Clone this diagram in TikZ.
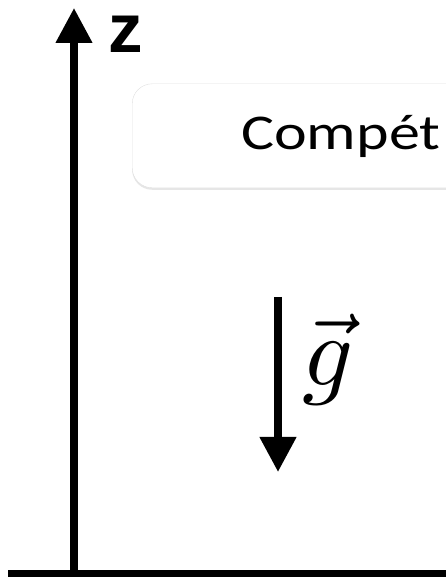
\documentclass[tikz,border=0pt]{standalone}
\usepackage{fontspec}
\setmainfont{Carlito}
\newfontfamily\axisfont{Liberation Sans}
\usetikzlibrary{arrows.meta, positioning, shadows}

\begin{document}
\begin{tikzpicture}[
    x=1pt, y=1pt,
    axis/.style={line width=7.5pt, -{Triangle[length=35pt,width=35pt]}},
    ground/.style={line width=7pt},
    panel/.style={rectangle, draw=black!12, fill=white, rounded corners=20pt, minimum width=420pt, minimum height=104pt, anchor=south west, drop shadow={opacity=0.2, shadow xshift=0pt, shadow yshift=-2pt}},
    title/.style={font=\fontsize{50}{54}\selectfont, inner sep=0pt, anchor=base west, xscale=1.24, transform shape},
    zlabel/.style={font=\fontsize{69}{72}\selectfont\axisfont\bfseries, inner sep=0pt, anchor=base west},
    glabel/.style={inner sep=0pt, anchor=base west, scale=10, transform shape}
]
\useasboundingbox (0,0) rectangle (446,577);
\clip (0,0) rectangle (446,577);

% vertical axis and ground
\coordinate (origin) at (74,3.5);
\coordinate (ztip) at (74,569);
\coordinate (gleft) at (8,3.5);
\coordinate (gright) at (460,3.5);
\draw [ground] (gleft) -- (gright);
\draw [axis] (origin) -- (ztip);
\node [zlabel] (z) at (108,524) {z};

% title panel
\node [panel] (panel) at (132,389) {};
\node [title] (title) at (241,427.5) {Compét};

% gravity
\coordinate (gtop) at (278,280);
\coordinate (gbot) at (278,105);
\draw [axis] (gtop) -- (gbot);
\node [glabel] (g) at (300,191) {$\vec{g}$};

\end{tikzpicture}
\end{document}
